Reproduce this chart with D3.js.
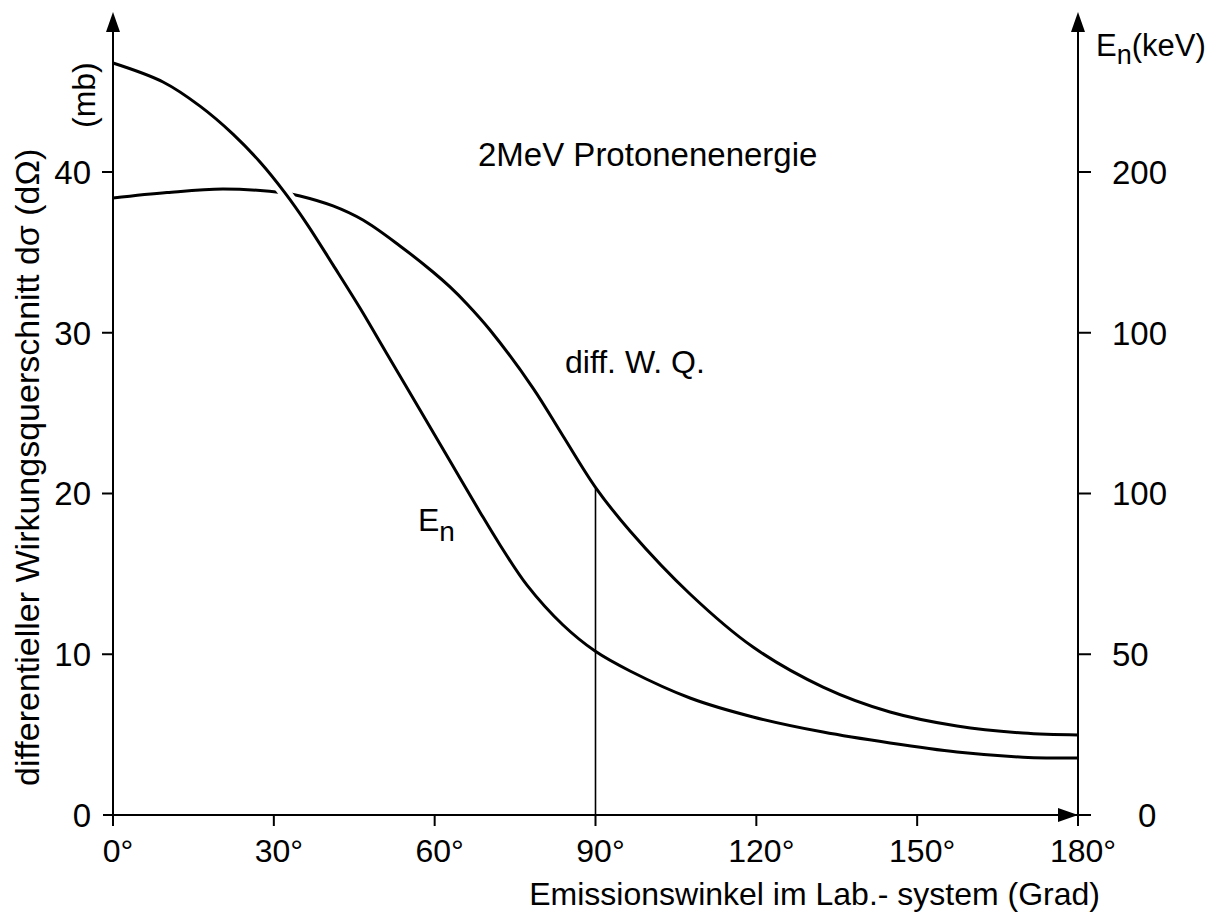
<!DOCTYPE html>
<html>
<head>
<meta charset="utf-8">
<script src="https://cdn.jsdelivr.net/npm/d3@7"></script>
<style>
  html, body { margin: 0; padding: 0; background: #fff; }
  svg text { font-family: "Liberation Sans", Arial, sans-serif; fill: #000; }
</style>
</head>
<body>
<svg id="chart" width="1219" height="914"></svg>
<script>
// ---- data ----
const xTicks = [0, 30, 60, 90, 120, 150, 180];
const xTickLabels = ["0°", "30°", "60°", "90°", "120°", "150°", "180°"];
const leftTicks = [0, 10, 20, 30, 40];
const leftTickLabels = ["0", "10", "20", "30", "40"];
const rightTicks = [0, 50, 100, 150, 200];
const rightTickLabels = ["0", "50", "100", "100", "200"];

// differential cross section (mb), left axis
const wqAngle = [0, 10.07, 20.52, 32.08, 34.88, 41.04, 46.63, 53.53, 59.69, 62.86, 66.03, 70.32, 78.34, 83.94, 90.09, 96.44, 107.63, 119.38, 132.44, 144.94, 157.43, 169.74, 180];
const wqMb    = [38.38, 38.72, 38.94, 38.69, 38.51, 37.89, 37.01, 35.40, 33.78, 32.85, 31.79, 30.17, 26.56, 23.58, 20.34, 17.67, 13.75, 10.45, 7.96, 6.41, 5.54, 5.10, 4.98];

// neutron energy (keV), right axis
const enAngle = [0, 9.33, 16.23, 22.38, 27.42, 32.08, 36.19, 41.04, 46.07, 51.11, 57.27, 62.86, 68.46, 72.19, 77.22, 83.94, 89.91, 96.44, 107.63, 119.38, 132.44, 144.94, 157.43, 169.74, 180];
const enKeV   = [233.9, 228.0, 220.5, 211.8, 203.1, 193.5, 183.8, 171.1, 157.7, 143.4, 126.0, 110.1, 94.2, 84.0, 71.5, 59.1, 51.0, 44.8, 36.4, 30.5, 25.8, 22.4, 19.6, 18.0, 17.7];

const markerAngle = 90;
const markerMb = 20.3;

// ---- layout ----
const svg = d3.select("#chart");
const x = d3.scaleLinear().domain([0, 180]).range([113, 1078]);
const yL = d3.scaleLinear().domain([0, 40]).range([815, 172]);
const yR = d3.scaleLinear().domain([0, 200]).range([815, 172]);
const yTop = 12;

const FS = 33;

// curves
const lineWQ = d3.line().x(d => x(d[0])).y(d => yL(d[1])).curve(d3.curveCatmullRom.alpha(0.5));
const lineEN = d3.line().x(d => x(d[0])).y(d => yR(d[1])).curve(d3.curveCatmullRom.alpha(0.5));
const wqData = wqAngle.map((a, i) => [a, wqMb[i]]);
const enData = enAngle.map((a, i) => [a, enKeV[i]]);

svg.append("path").attr("d", lineWQ(wqData))
  .attr("fill", "none").attr("stroke", "#000").attr("stroke-width", 3);
svg.append("path").attr("d", lineEN(enData))
  .attr("fill", "none").attr("stroke", "#fff").attr("stroke-width", 12);
svg.append("path").attr("d", lineEN(enData))
  .attr("fill", "none").attr("stroke", "#000").attr("stroke-width", 3);

// vertical marker at 90°
svg.append("line")
  .attr("x1", x(markerAngle)).attr("x2", x(markerAngle))
  .attr("y1", yL(0)).attr("y2", yL(markerMb))
  .attr("stroke", "#000").attr("stroke-width", 1.6);

// axes lines
const ax = svg.append("g").attr("stroke", "#000").attr("stroke-width", 2).attr("fill", "none");
ax.append("line").attr("x1", x(0)).attr("x2", x(0)).attr("y1", yL(0) + 11).attr("y2", yTop + 14);
ax.append("line").attr("x1", x(180)).attr("x2", x(180)).attr("y1", yL(0) + 11).attr("y2", yTop + 14);
ax.append("line").attr("x1", x(0) - 10).attr("x2", x(180) + 13).attr("y1", yL(0)).attr("y2", yL(0));

// arrows
const arrows = svg.append("g").attr("fill", "#000");
[x(0), x(180)].forEach(xx => {
  arrows.append("path").attr("d", `M${xx},${yTop} L${xx - 7},${yTop + 20} L${xx + 7},${yTop + 20} Z`);
});
arrows.append("path").attr("d", `M${x(180)},${yL(0)} L${x(180) - 20},${yL(0) - 7} L${x(180) - 20},${yL(0) + 7} Z`);

// x ticks
xTicks.forEach((t, i) => {
  if (t !== 0 && t !== 180) {
    ax.append("line").attr("x1", x(t)).attr("x2", x(t)).attr("y1", yL(0)).attr("y2", yL(0) + 11);
  }
  svg.append("text").attr("x", x(t) + 5).attr("y", 862)
    .attr("text-anchor", "middle").attr("font-size", 32).text(xTickLabels[i]);
});

// left ticks
leftTicks.forEach((t, i) => {
  if (t !== 0) ax.append("line").attr("x1", x(0) - 11).attr("x2", x(0)).attr("y1", yL(t)).attr("y2", yL(t));
  svg.append("text").attr("x", 91).attr("y", yL(t)).attr("dy", "0.36em")
    .attr("text-anchor", "end").attr("font-size", FS).text(leftTickLabels[i]);
});

// right ticks
rightTicks.forEach((t, i) => {
  if (t !== 0) ax.append("line").attr("x1", x(180)).attr("x2", x(180) + 13).attr("y1", yR(t)).attr("y2", yR(t));
  svg.append("text").attr("x", t === 0 ? 1138 : 1112).attr("y", yR(t)).attr("dy", "0.36em")
    .attr("text-anchor", "start").attr("font-size", FS).text(rightTickLabels[i]);
});

// axis titles
svg.append("text").attr("x", 1100).attr("y", 905).attr("text-anchor", "end")
  .attr("font-size", 32).text("Emissionswinkel im Lab.- system (Grad)");

svg.append("text").attr("transform", "translate(39,786) rotate(-90)")
  .attr("text-anchor", "start").attr("font-size", 34)
  .text("differentieller Wirkungsquerschnitt  dσ (dΩ)");
svg.append("text").attr("transform", "translate(95,128) rotate(-90)")
  .attr("text-anchor", "start").attr("font-size", 32).text("(mb)");

const rt = svg.append("text").attr("x", 1096).attr("y", 56).attr("font-size", 31);
rt.append("tspan").text("E");
rt.append("tspan").attr("dy", 8).attr("font-size", 27).text("n");
rt.append("tspan").attr("dy", -8).text("(keV)");

// annotations
svg.append("text").attr("x", 478).attr("y", 166).attr("font-size", FS).text("2MeV  Protonenenergie");
svg.append("text").attr("x", 565).attr("y", 373).attr("font-size", 32).text("diff. W. Q.");
const en = svg.append("text").attr("x", 418).attr("y", 531).attr("font-size", 32);
en.append("tspan").text("E");
en.append("tspan").attr("dy", 10).attr("font-size", 28).text("n");
</script>
</body>
</html>
